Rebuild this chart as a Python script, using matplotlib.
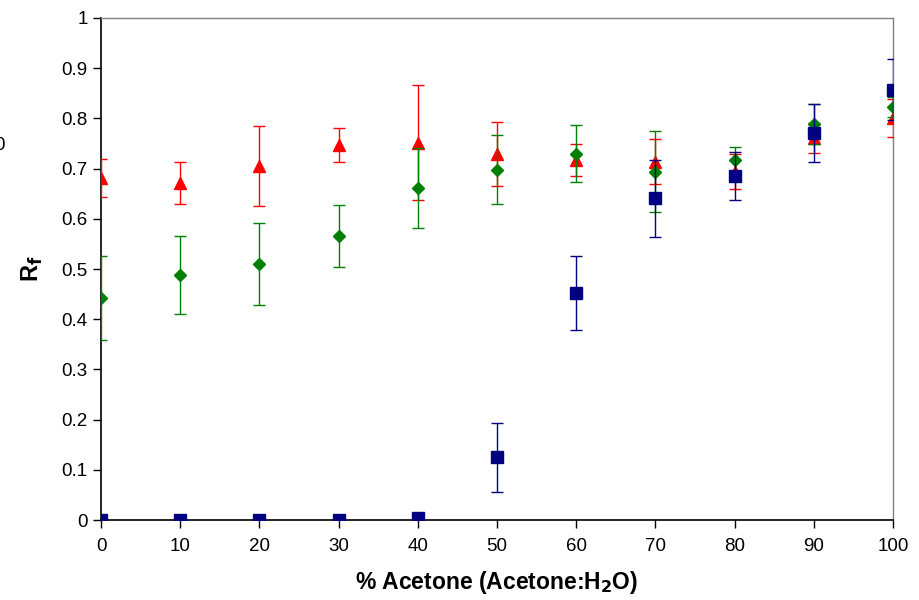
import matplotlib
matplotlib.use("Agg")
import matplotlib.pyplot as plt

plt.rcParams['font.family'] = ['Liberation Sans', 'DejaVu Sans']

# % acetone in the mobile phase
acetone = [0, 10, 20, 30, 40, 50, 60, 70, 80, 90, 100]

# Rf values and errors
rf_blue = [0.0, 0.0, 0.0, 0.0, 0.005, 0.125, 0.452, 0.641, 0.686, 0.771, 0.857]
err_blue = [0.0, 0.0, 0.0, 0.0, 0.0, 0.069, 0.074, 0.077, 0.048, 0.058, 0.061]

rf_green = [0.442, 0.488, 0.510, 0.566, 0.661, 0.698, 0.730, 0.694, 0.717, 0.789, 0.823]
err_green = [0.083, 0.078, 0.082, 0.062, 0.080, 0.069, 0.057, 0.080, 0.027, 0.040, 0.020]

rf_red = [0.681, 0.671, 0.705, 0.747, 0.752, 0.729, 0.717, 0.714, 0.694, 0.761, 0.800]
err_red = [0.038, 0.042, 0.080, 0.033, 0.115, 0.064, 0.032, 0.044, 0.035, 0.030, 0.038]

fig = plt.figure(figsize=(9.2, 6), dpi=100)
ax = fig.add_axes([0.1098, 0.1333, 0.8609, 0.8367])

ax.errorbar(acetone, rf_red, yerr=err_red, fmt='^', color='#ff0000',
	ms=9, capsize=4.5, elinewidth=1, capthick=1, zorder=3)
ax.errorbar(acetone, rf_green, yerr=err_green, fmt='D', color='#008000',
	ms=6.5, capsize=4.5, elinewidth=1, capthick=1, zorder=4)
ax.errorbar(acetone, rf_blue, yerr=err_blue, fmt='s', color='#000080',
	ms=8.5, capsize=4.5, elinewidth=1, capthick=1, zorder=5)

ax.set_xlim(0, 100)
ax.set_ylim(0, 1)
ax.set_xticks(range(0, 101, 10))
ax.set_yticks([i / 10 for i in range(11)])
ax.set_yticklabels(['0', '0.1', '0.2', '0.3', '0.4', '0.5', '0.6', '0.7', '0.8', '0.9', '1'])
ax.tick_params(labelsize=13.5, direction='out', length=6, width=1)
ax.tick_params(axis='x', pad=7)

for s in ['left', 'bottom']:
	ax.spines[s].set_color('black')
	ax.spines[s].set_linewidth(1.2)
for s in ['top', 'right']:
	ax.spines[s].set_color('#808080')
	ax.spines[s].set_linewidth(1)

ax.set_xlabel("% Acetone (Acetone:H$_\\mathbf{2}$O)", fontsize=16.5, fontweight='bold', labelpad=10)
ax.set_ylabel("R$_\\mathbf{f}$", fontsize=17, fontweight='bold', labelpad=12)

# stray label cut off at the left edge of the original
fig.text(-0.006, 0.757, "0", fontsize=13.5, ha='left', va='center')

fig.savefig("out.png", dpi=100)
